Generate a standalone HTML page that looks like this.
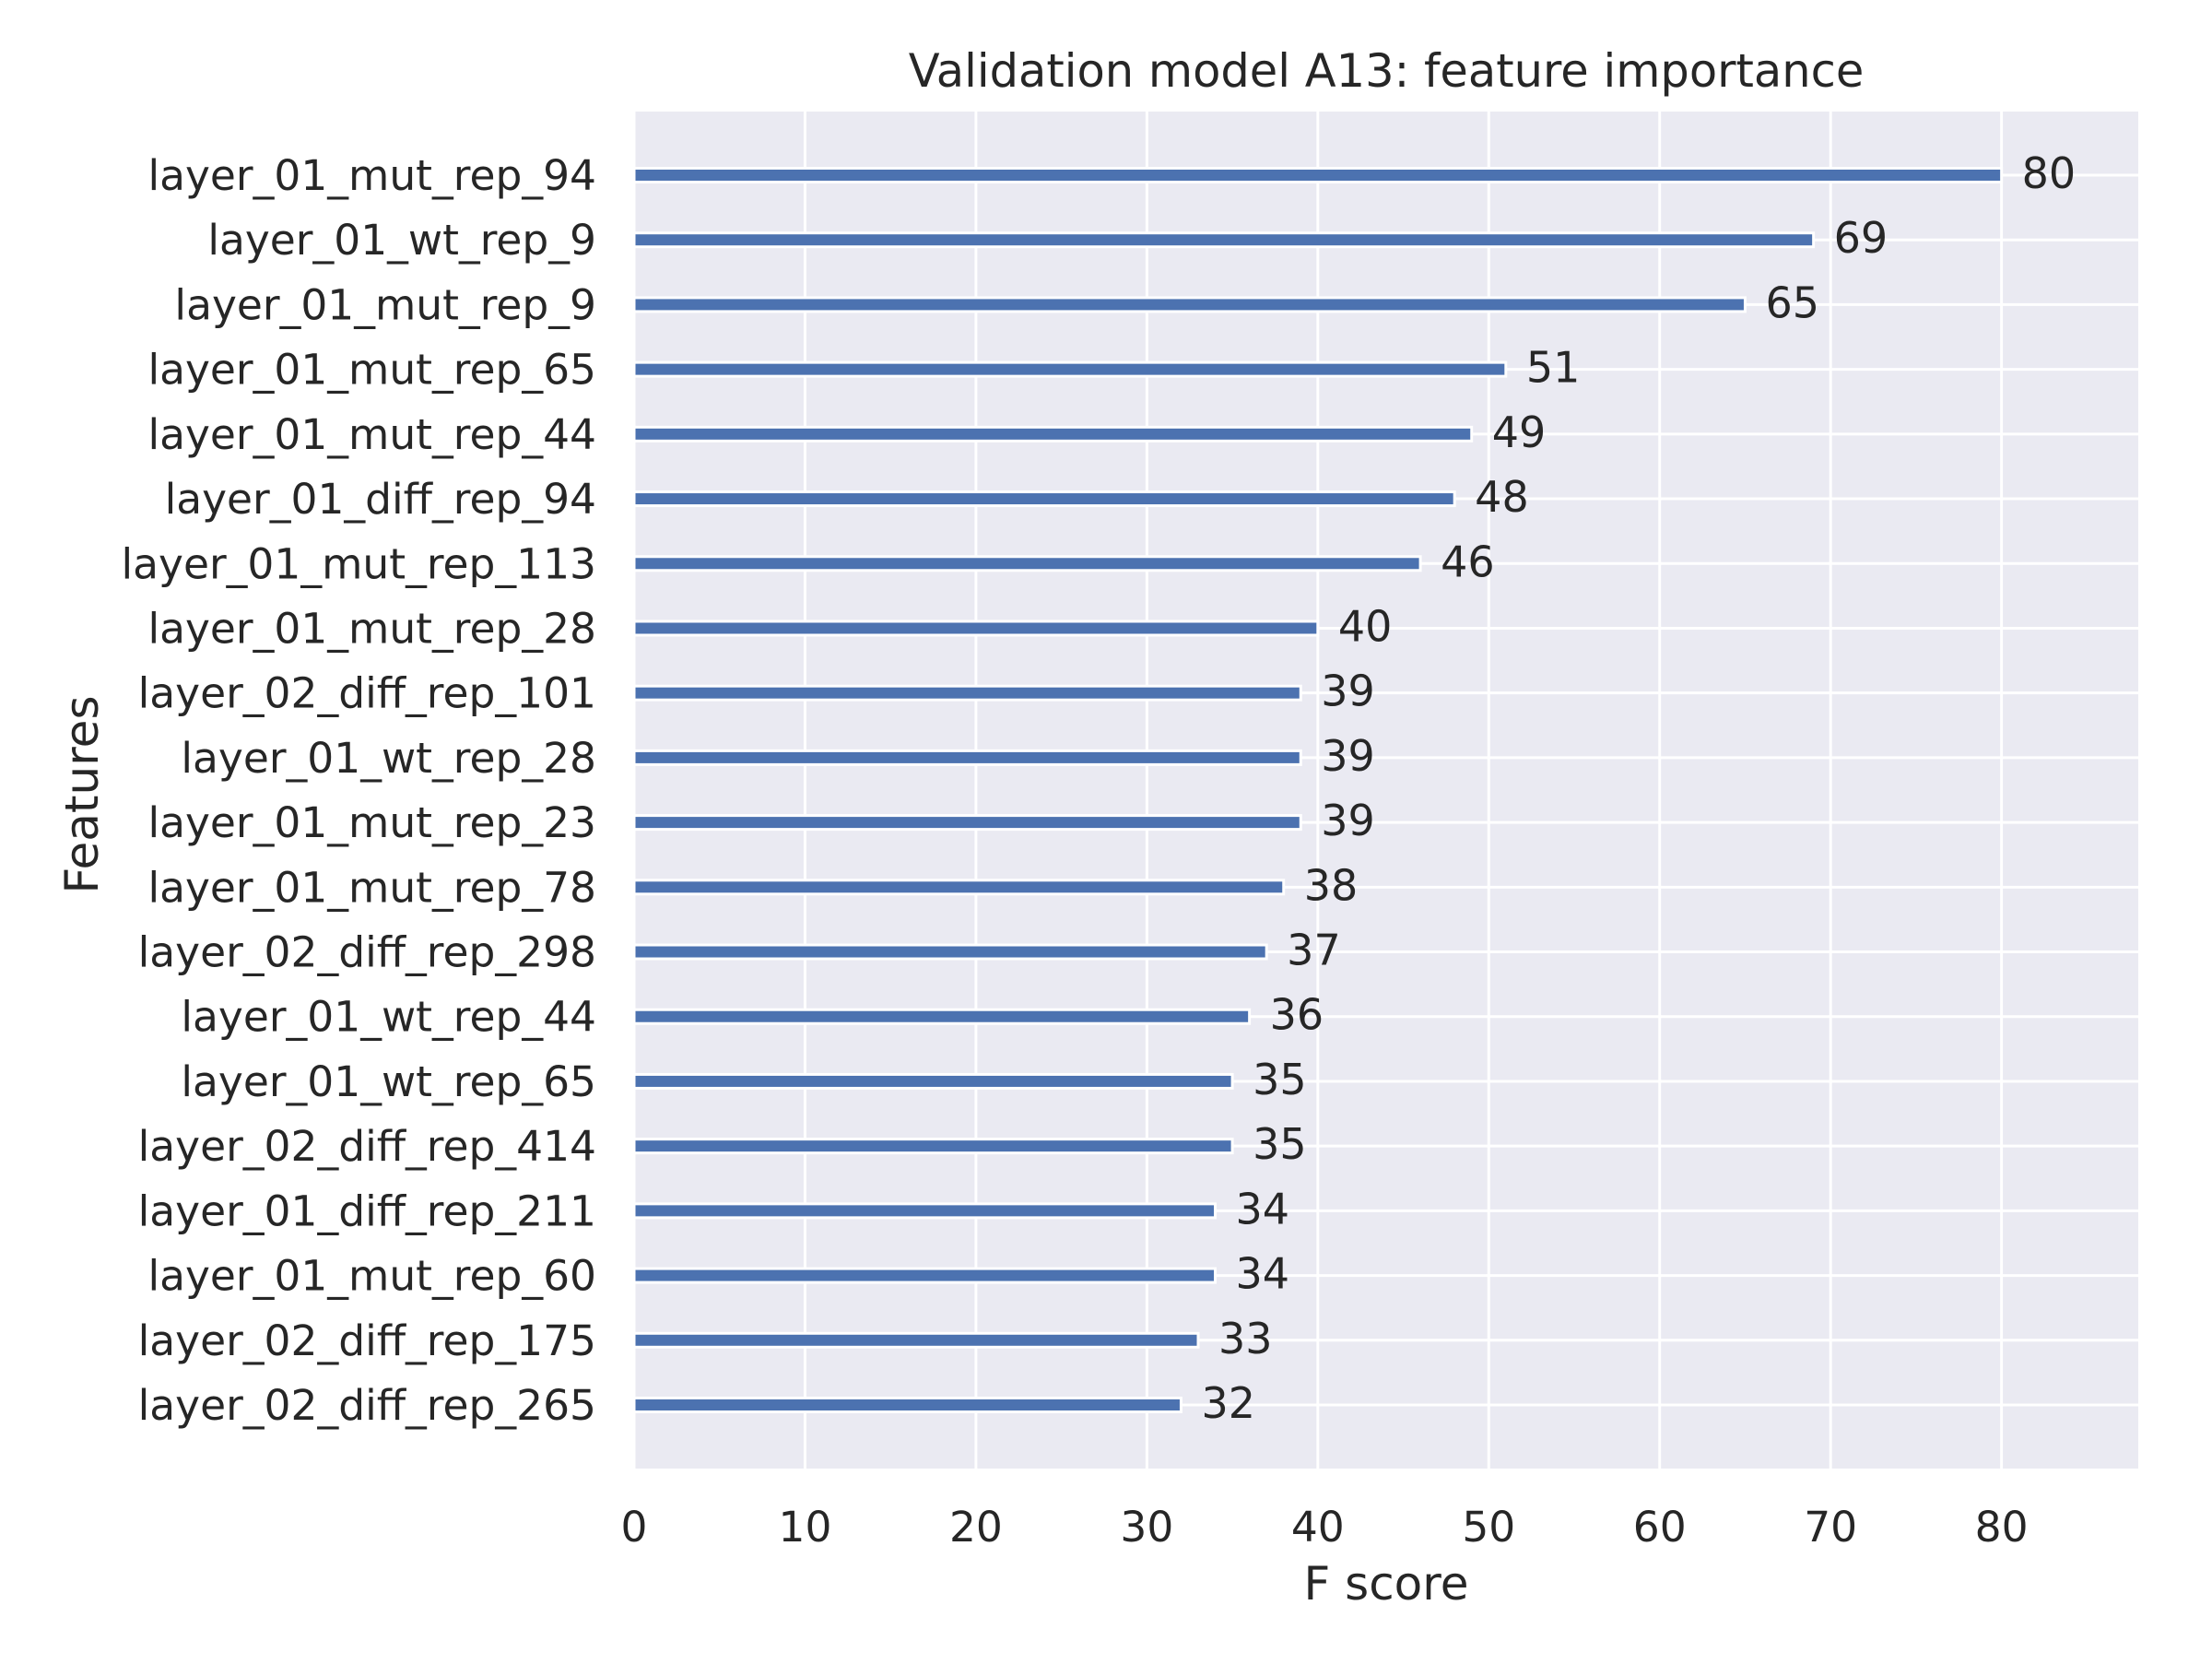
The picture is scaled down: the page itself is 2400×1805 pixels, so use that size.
<!DOCTYPE html>
<html><head><meta charset="utf-8"><style>
body{margin:0;background:#fff;}
svg text{font-family:"DejaVu Sans","Liberation Sans",sans-serif;fill:#262626;}
</style></head><body>
<svg id="chart" width="2400" height="1800" xmlns="http://www.w3.org/2000/svg">
<rect x="0" y="0" width="2400" height="1800" fill="#fff"/>
<rect x="688" y="121" width="1632" height="1472" fill="#EAEAF2"/>
<g id="grid"></g><g id="bars"></g><g id="labels"></g>
<text x="1504" y="94" font-size="49.5" text-anchor="middle">Validation model A13: feature importance</text>
<text x="1504" y="1735" font-size="50" text-anchor="middle">F score</text>
<text x="0" y="0" font-size="50" text-anchor="middle" transform="translate(106,862) rotate(-90)">Features</text>
</svg>
<script>
const features=["layer_01_mut_rep_94","layer_01_wt_rep_9","layer_01_mut_rep_9","layer_01_mut_rep_65","layer_01_mut_rep_44","layer_01_diff_rep_94","layer_01_mut_rep_113","layer_01_mut_rep_28","layer_02_diff_rep_101","layer_01_wt_rep_28","layer_01_mut_rep_23","layer_01_mut_rep_78","layer_02_diff_rep_298","layer_01_wt_rep_44","layer_01_wt_rep_65","layer_02_diff_rep_414","layer_01_diff_rep_211","layer_01_mut_rep_60","layer_02_diff_rep_175","layer_02_diff_rep_265"];
const scores=[80,69,65,51,49,48,46,40,39,39,39,38,37,36,35,35,34,34,33,32];
const xTicks=[0,10,20,30,40,50,60,70,80];
const NS="http://www.w3.org/2000/svg";
const X0=688,XR=2320,YT=121,YB=1593,XMAX=88;
function xs(v){return X0+v/XMAX*(XR-X0);}
const rowTop=190,rowBot=1524;
function ys(i){return rowTop+i*(rowBot-rowTop)/(features.length-1);}
function mk(t,a,p){const e=document.createElementNS(NS,t);for(const k in a)e.setAttribute(k,a[k]);p.appendChild(e);return e;}
const grid=document.getElementById('grid'),bars=document.getElementById('bars'),labels=document.getElementById('labels');
xTicks.forEach(t=>{
  const l=mk('line',{x1:xs(t),x2:xs(t),y1:YT,y2:YB,stroke:'#fff','stroke-width':3},grid);
  
  
  const tx=mk('text',{x:xs(t),y:1672,'font-size':45.5,'text-anchor':'middle'},labels);
  tx.textContent=t;
  
  
});
features.forEach((f,i)=>{
  const y=ys(i);
  const g=mk('line',{x1:X0,x2:XR,y1:y,y2:y,stroke:'#fff','stroke-width':3},grid);
  
  
  const b=mk('rect',{x:X0,y:y-7.5,width:xs(scores[i])-X0,height:15,fill:'#4C72B0',stroke:'#fff','stroke-width':3},bars);
  
  
  const v=mk('text',{x:xs(scores[i])+22,y:y+14,'font-size':46},labels);
  v.textContent=scores[i];
  
  
  const t=mk('text',{x:647,y:y+16,'font-size':45.5,'text-anchor':'end'},labels);
  t.textContent=f;
  
  
});
</script>
</body></html>
